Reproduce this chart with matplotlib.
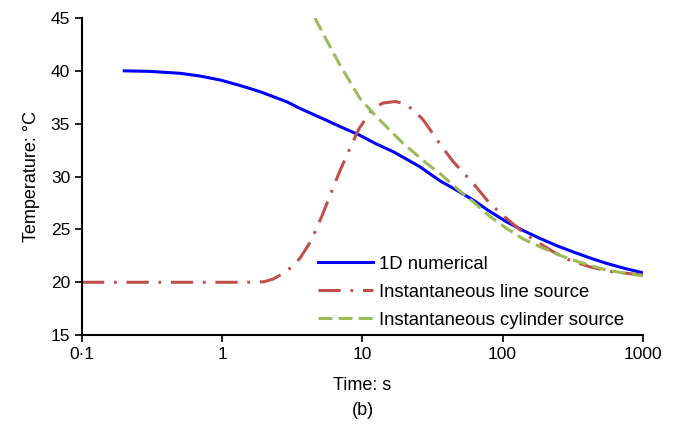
import matplotlib
matplotlib.use("Agg")
import matplotlib.pyplot as plt

plt.rcParams['font.family'] = ['Liberation Sans', 'DejaVu Sans']
plt.rcParams['lines.scale_dashes'] = False

# 1D numerical
t_num = [0.2, 0.3, 0.5, 0.7, 0.97, 1.35, 1.86, 2.88, 3.58, 4.98, 7, 9.6, 12.5, 16.6, 25.7, 35.7, 46.9,
         61.7, 80, 106.7, 140, 184.6, 250, 318, 420, 551, 750, 1000]
T_num = [40.0, 39.95, 39.77, 39.5, 39.13, 38.6, 38.03, 37.08, 36.45, 35.6, 34.7, 33.9, 33.1, 32.35, 30.93, 29.6, 28.72,
         27.78, 26.75, 25.72, 24.9, 24.15, 23.4, 22.88, 22.3, 21.79, 21.3, 20.9]

# instantaneous line source
t_line = [0.1, 0.5, 1, 1.5, 2.0, 2.3, 2.7, 3.1, 3.58, 4.3, 5.12, 6.84, 8.1, 9.5, 11.9, 14, 17.1, 20, 23, 27, 31.1,
          37, 44.5, 61.7, 81, 106.7, 148, 230, 300, 419, 600, 1000]
T_line = [20.0, 20.0, 20.0, 20.0, 20.05, 20.3, 20.8, 21.4, 22.26, 23.9, 26.2, 30.4, 32.6, 34.56, 36.45, 36.95, 37.1,
          36.9, 36.3, 35.4, 34.24, 32.8, 31.4, 29.36, 27.46, 26.04, 24.46, 22.88, 22.1, 21.46, 21.0, 20.68]

# instantaneous cylinder source
t_cyl = [4.58, 5.5, 6.92, 9.6, 12.6, 19.5, 28.7, 35.7, 46.9, 61.7, 80, 106.7, 140, 184.6, 250, 318, 420, 551, 750, 1000]
T_cyl = [45.0, 43.0, 40.55, 37.4, 35.66, 33.14, 31.25, 30.3, 28.9, 27.62, 26.3, 25.1, 24.1, 23.36, 22.6, 22.1, 21.6,
         21.15, 20.85, 20.6]

fig = plt.figure(figsize=(6.78, 4.28), dpi=100)
ax = fig.add_axes([0.121, 0.217, 0.827, 0.741])

ax.plot(t_num, T_num, color='#0000FF', lw=2.2, label='1D numerical')
ax.plot(t_line, T_line, color='#C0504D', lw=2.2, dashes=(16, 7, 2, 7), label='Instantaneous line source')
ax.plot(t_cyl, T_cyl, color='#9BBB59', lw=2.2, dashes=(10, 4.5), label='Instantaneous cylinder source')

ax.set_xscale('log')
ax.set_xlim(0.1, 1000)
ax.set_ylim(15, 45)
ax.set_xticks([0.1, 1, 10, 100, 1000])
ax.set_xticklabels(['0·1', '1', '10', '100', '1000'])
ax.set_yticks([15, 20, 25, 30, 35, 40, 45])
ax.minorticks_off()
ax.tick_params(labelsize=12.5, length=5, width=1.2, direction='out', colors='black')
for s in ['top', 'right']:
    ax.spines[s].set_visible(False)
for s in ['left', 'bottom']:
    ax.spines[s].set_linewidth(1.5)

ax.set_xlabel('Time: s', fontsize=13, labelpad=11)
ax.set_ylabel('Temperature: °C', fontsize=13, labelpad=8)
fig.text(0.535, 0.03, '(b)', fontsize=13, ha='center')

ax.legend(loc='lower left', bbox_to_anchor=(0.42, 0.02), frameon=False, fontsize=13.3,
          handlelength=2.98, handletextpad=0.33, labelspacing=0.6, borderpad=0, borderaxespad=0)

fig.savefig('out.png', dpi=100)
